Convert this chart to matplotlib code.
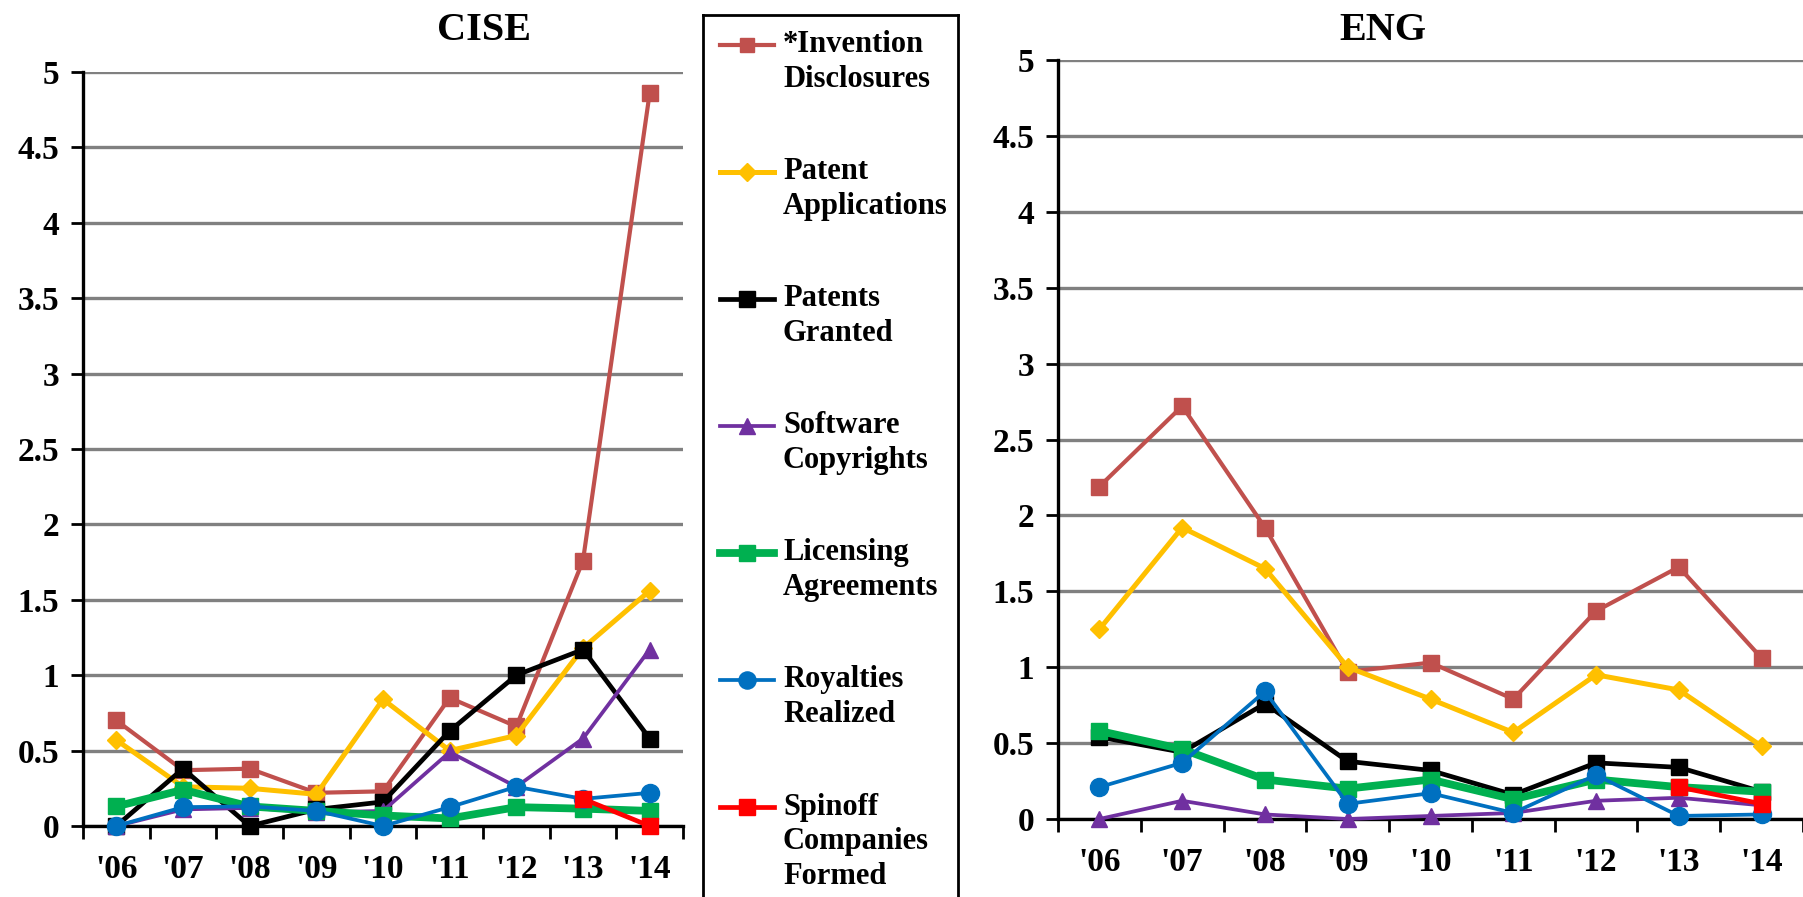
import numpy as np
import matplotlib
matplotlib.use('Agg')
import matplotlib.pyplot as plt

plt.rcParams['font.family'] = 'Liberation Serif'
plt.rcParams['font.weight'] = 'bold'

years = ["'06", "'07", "'08", "'09", "'10", "'11", "'12", "'13", "'14"]
nan = np.nan

series_names = ['*Invention\nDisclosures', 'Patent\nApplications', 'Patents\nGranted',
                'Software\nCopyrights', 'Licensing\nAgreements', 'Royalties\nRealized',
                'Spinoff\nCompanies\nFormed']

cise_invention = [0.70, 0.37, 0.38, 0.22, 0.23, 0.85, 0.66, 1.76, 4.86]
cise_patent_app = [0.57, 0.26, 0.25, 0.21, 0.84, 0.50, 0.60, 1.18, 1.56]
cise_granted = [0.0, 0.38, 0.0, 0.11, 0.16, 0.63, 1.0, 1.17, 0.58]
cise_software = [0.0, 0.11, 0.12, 0.09, 0.10, 0.49, 0.26, 0.58, 1.17]
cise_licensing = [0.13, 0.24, 0.13, 0.10, 0.07, 0.05, 0.125, 0.115, 0.10]
cise_royalties = [0.0, 0.125, 0.13, 0.10, 0.0, 0.125, 0.26, 0.18, 0.22]
cise_spinoff = [nan, nan, nan, nan, nan, nan, nan, 0.18, 0.0]

eng_invention = [2.19, 2.72, 1.92, 0.97, 1.03, 0.79, 1.37, 1.66, 1.06]
eng_patent_app = [1.25, 1.92, 1.65, 1.0, 0.79, 0.57, 0.95, 0.85, 0.48]
eng_granted = [0.54, 0.44, 0.76, 0.38, 0.32, 0.16, 0.37, 0.34, 0.18]
eng_software = [0.0, 0.12, 0.03, 0.0, 0.02, 0.04, 0.12, 0.14, 0.09]
eng_licensing = [0.58, 0.46, 0.26, 0.20, 0.26, 0.13, 0.26, 0.21, 0.18]
eng_royalties = [0.21, 0.37, 0.84, 0.10, 0.17, 0.04, 0.29, 0.02, 0.03]
eng_spinoff = [nan, nan, nan, nan, nan, nan, nan, 0.21, 0.10]

colors = ['#C0504D', '#FFC000', '#000000', '#7030A0', '#00B050', '#0070C0', '#FF0000']
markers = ['s', 'D', 's', '^', 's', 'o', 's']
msizes = [11, 9.5, 12, 12, 12, 13, 12]
lwidths = [3.0, 3.6, 3.4, 2.7, 5.6, 2.7, 3.4]

cise = [cise_invention, cise_patent_app, cise_granted, cise_software,
        cise_licensing, cise_royalties, cise_spinoff]
eng = [eng_invention, eng_patent_app, eng_granted, eng_software,
       eng_licensing, eng_royalties, eng_spinoff]

W, H = 1803, 897
fig = plt.figure(figsize=(W / 100, H / 100), dpi=100)


def px_box(x0, x1, ytop, ybot):
    return [x0 / W, 1 - ybot / H, (x1 - x0) / W, (ybot - ytop) / H]


def draw_panel(ax, data, title, title_x):
    x = np.arange(len(years))
    for i, vals in enumerate(data):
        ax.plot(x, vals, color=colors[i], marker=markers[i], markersize=msizes[i],
                linewidth=lwidths[i], zorder=3 + i, clip_on=False)
    ax.set_xlim(-0.5, len(years) - 0.5)
    ax.set_ylim(0, 5)
    ax.set_yticks(np.arange(0, 5.01, 0.5))
    ax.set_yticklabels(['0', '0.5', '1', '1.5', '2', '2.5', '3', '3.5', '4', '4.5', '5'])
    ax.set_xticks(x)
    ax.set_xticklabels(years)
    ax.set_xticks(np.arange(-0.5, len(years), 1), minor=True)
    ax.tick_params(axis='x', which='major', length=0, pad=20, labelsize=24)
    ax.tick_params(axis='x', which='minor', length=9, width=2, direction='out')
    ax.tick_params(axis='y', length=9, width=2, direction='out', pad=8, labelsize=24)
    ax.yaxis.grid(True, color='#808080', linewidth=2.4)
    ax.set_axisbelow(True)
    for s in ['top', 'right']:
        ax.spines[s].set_visible(False)
    ax.spines['left'].set_linewidth(2.4)
    ax.spines['bottom'].set_linewidth(2.4)
    ax.spines['bottom'].set_zorder(2.5)
    fig.text(title_x / W, 1 - 30 / H, title, ha='center', va='center',
             fontsize=29, fontweight='bold')


ax1 = fig.add_axes(px_box(83, 683, 72, 826))
draw_panel(ax1, cise, 'CISE', 484)

ax2 = fig.add_axes(px_box(1058, 1803, 60, 819))
draw_panel(ax2, eng, 'ENG', 1383)

# legend box
leg = fig.add_axes(px_box(703, 958, 15, 905))
leg.set_xlim(703, 958)
leg.set_ylim(905, 15)
leg.set_xticks([])
leg.set_yticks([])
for s in leg.spines.values():
    s.set_linewidth(2)
    s.set_color('black')
for i, name in enumerate(series_names):
    y = 45 + i * 127
    leg.plot([720, 774], [y, y], color=colors[i], linewidth=lwidths[i])
    leg.plot([747], [y], color=colors[i], marker=markers[i], markersize=msizes[i] * 0.95)
    for k, line in enumerate(name.split('\n')):
        leg.text(783, y + k * 35, line, ha='left', va='center', fontsize=22,
                 fontweight='bold')

fig.savefig('out.png', dpi=100)
